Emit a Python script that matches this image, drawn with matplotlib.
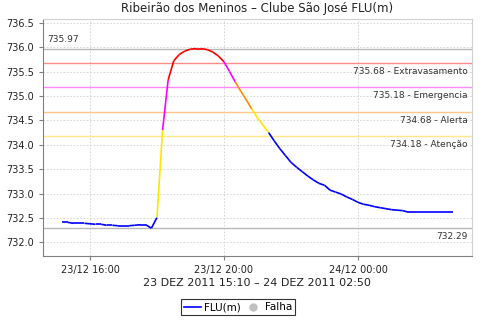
import numpy as np
import pandas as pd
import matplotlib
matplotlib.use('Agg')
import matplotlib.pyplot as plt
import matplotlib.dates as mdates
from matplotlib.lines import Line2D

# 10 min readings, 23/12/2011 15:10 -> 24/12/2011 02:50
start, end = '2011-12-23 15:10', '2011-12-24 02:50'
level = [732.41, 732.41, 732.39, 732.39, 732.39, 732.38, 732.37, 732.37, 732.35, 732.35,
         732.34, 732.34, 732.34, 732.35, 732.36, 732.36, 732.29, 732.51, 734.30, 735.33,
         735.72, 735.85, 735.92, 735.96, 735.97, 735.97, 735.95, 735.90, 735.82, 735.70,
         735.50, 735.29, 735.10, 734.92, 734.73, 734.55, 734.40, 734.25, 734.08, 733.92,
         733.78, 733.64, 733.54, 733.45, 733.36, 733.28, 733.21, 733.17, 733.07, 733.03,
         732.99, 732.93, 732.88, 732.82, 732.78, 732.76, 732.73, 732.71, 732.69, 732.67,
         732.66, 732.65, 732.62, 732.62, 732.62, 732.62, 732.62, 732.62, 732.62, 732.62,
         732.62]

# alarm levels
alarm_vals = [734.18, 734.68, 735.18, 735.68]
alarm_names = ['Atenção', 'Alerta', 'Emergencia', 'Extravasamento']
alarm_line_colors = ['#FFE88A', '#FFC88A', '#FF8CFF', '#FF8C8C']
seg_colors = ['#0000FF', '#FFE600', '#FF8C00', '#FF00FF', '#FF0000']
level_max, level_min = 735.97, 732.29

times = pd.date_range(start, end, freq='10min')

fig = plt.figure(figsize=(4.8, 3.2), dpi=100)
ax = fig.add_axes([0.0896, 0.2, 0.8934, 0.741])

def seg_color(v):
    return seg_colors[np.searchsorted(alarm_vals, v)]

# grid
ax.grid(True, color='#D0D0D0', linestyle=(0, (2, 2)), linewidth=0.6)
ax.set_axisbelow(True)

# max / min lines
ax.axhline(level_max, color='#B8B8B8', lw=1)
ax.axhline(level_min, color='#B8B8B8', lw=1)
for v, c in zip(alarm_vals, alarm_line_colors):
    ax.axhline(v, color=c, lw=1)

# series coloured by the level of the later point
for i in range(1, len(level)):
    ax.plot(times[i-1:i+1], level[i-1:i+1], color=seg_color(level[i]), lw=1.2,
            solid_capstyle='butt')

xmin = pd.Timestamp('2011-12-23 14:35:50')
xmax = pd.Timestamp('2011-12-24 03:24:00')
ax.set_xlim(xmin, xmax)
ax.set_ylim(731.72, 736.58)

# labels on the lines
ax.annotate(f'{level_max:.2f}', xy=(0, level_max), xycoords=('axes fraction', 'data'),
            xytext=(3, 3), textcoords='offset points', fontsize=6.5, color='#333333',
            ha='left', va='bottom')
ax.annotate(f'{level_min:.2f}', xy=(1, level_min), xycoords=('axes fraction', 'data'),
            xytext=(-3, -3), textcoords='offset points', fontsize=6.5, color='#333333',
            ha='right', va='top')
for v, n in zip(alarm_vals, alarm_names):
    ax.annotate(f'{v:.2f} - {n}', xy=(1, v), xycoords=('axes fraction', 'data'),
                xytext=(-3, -3), textcoords='offset points', fontsize=6.5,
                color='#333333', ha='right', va='top')

ax.set_yticks(np.arange(732.0, 736.51, 0.5))
ax.yaxis.set_major_formatter(matplotlib.ticker.FormatStrFormatter('%.1f'))
ax.set_xticks([pd.Timestamp('2011-12-23 16:00'), pd.Timestamp('2011-12-23 20:00'),
               pd.Timestamp('2011-12-24 00:00')])
ax.xaxis.set_major_formatter(mdates.DateFormatter('%d/%m %H:%M'))
ax.tick_params(labelsize=7, colors='#808080', labelcolor='#222222', length=3, width=0.8)

for side in ['top', 'right']:
    ax.spines[side].set_color('#D0D0D0')
for side in ['left', 'bottom']:
    ax.spines[side].set_color('#808080')

ax.set_title('Ribeirão dos Meninos – Clube São José FLU(m)', fontsize=8.5, pad=5,
             color='#222222')
ax.set_xlabel('23 DEZ 2011 15:10 – 24 DEZ 2011 02:50', fontsize=8, labelpad=2,
              color='#222222')

handles = [Line2D([], [], color='#0000FF', lw=1.2),
           Line2D([], [], color='#C0C0C0', marker='o', ls='none', markersize=5)]
leg = fig.legend(handles, ['FLU(m)', 'Falha'], loc='center', bbox_to_anchor=(0.496, 0.04),
                 ncol=2, fontsize=7.5, frameon=True, fancybox=False, edgecolor='black',
                 handlelength=1.6, handletextpad=0.3, columnspacing=0.4,
                 borderpad=0.3, borderaxespad=0)
leg.get_frame().set_linewidth(0.8)

fig.savefig('out.png', dpi=100)
